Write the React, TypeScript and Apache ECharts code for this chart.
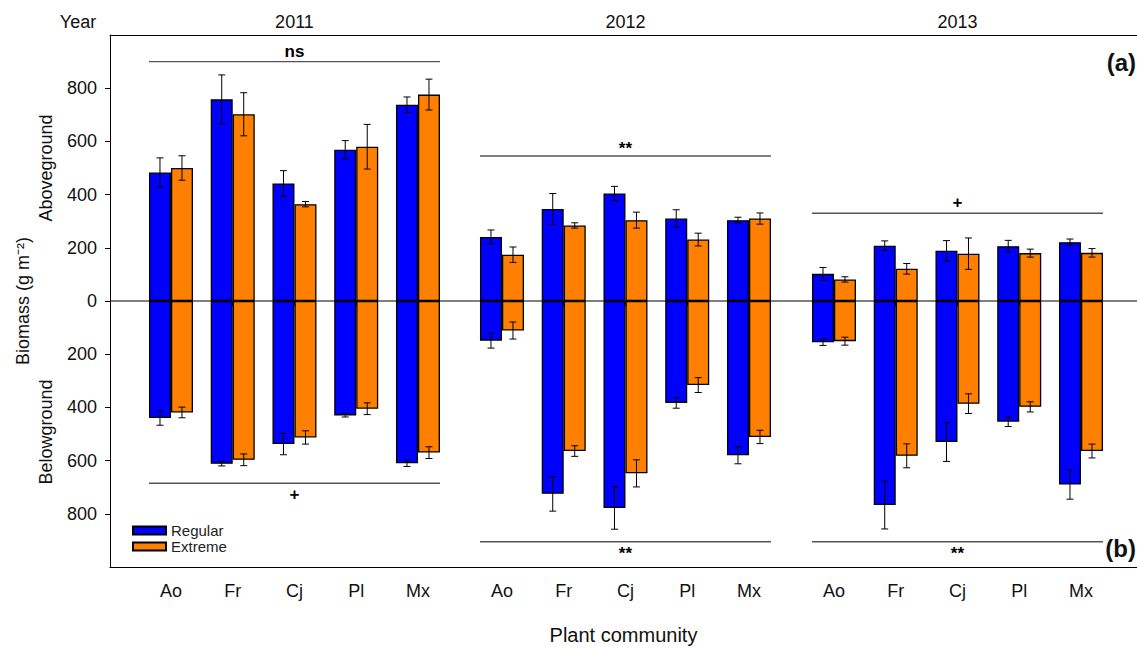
import React, { useEffect, useRef } from "react";
import * as echarts from "echarts";

const years = ["2011", "2012", "2013"];
const communities = ["Ao", "Fr", "Cj", "Pl", "Mx"];

// Aboveground biomass (g m-2), per year, per community
const aboveRegular = [
  [483, 758, 442, 569, 738],
  [241, 346, 404, 310, 304],
  [102, 208, 189, 206, 221],
];
const aboveRegularErr = [
  [55, 92, 48, 34, 29],
  [26, 58, 27, 33, 11],
  [24, 18, 38, 22, 12],
];
const aboveExtreme = [
  [500, 702, 364, 580, 776],
  [174, 284, 304, 231, 310],
  [81, 121, 178, 180, 181],
];
const aboveExtremeErr = [
  [46, 81, 10, 84, 58],
  [29, 10, 30, 24, 21],
  [10, 20, 59, 15, 16],
];
// Belowground biomass (g m-2), plotted downward
const belowRegular = [
  [440, 612, 538, 430, 610],
  [149, 725, 778, 383, 580],
  [155, 767, 530, 454, 690],
];
const belowRegularErr = [
  [27, 8, 40, 6, 12],
  [28, 65, 80, 20, 32],
  [12, 90, 73, 18, 55],
];
const belowExtreme = [
  [419, 597, 513, 405, 570],
  [111, 564, 648, 316, 511],
  [151, 582, 386, 398, 564],
];
const belowExtremeErr = [
  [20, 22, 25, 22, 22],
  [32, 20, 51, 28, 25],
  [15, 45, 37, 19, 26],
];

// Significance annotations
const sigAboveY = [900, 545, 330];
const sigAboveLabel = ["ns", "**", "+"];
const sigBelowY = [-685, -905, -905];
const sigBelowLabel = ["+", "**", "**"];

const yTickValues = [-800, -600, -400, -200, 0, 200, 400, 600, 800];

const FONT = "'Liberation Sans', Arial, Helvetica, sans-serif";
const BLUE = "#0000FF";
const ORANGE = "#FF8000";
const BAR_W = 22;
const BAND = 61.75;
const gridLefts = [140.1, 471.1, 803.1];
const TOP = 35;
const BOTTOM = 81;

function buildOption() {
  const grids: any[] = gridLefts.map((l) => ({
    left: l,
    width: BAND * 5,
    top: TOP,
    bottom: BOTTOM,
    containLabel: false,
    outerBoundsMode: "none",
  }));
  grids.push({ left: 110, right: 0, top: TOP, bottom: BOTTOM, containLabel: false, outerBoundsMode: "none" });

  const xAxes: any[] = years.map((_, i) => ({
    type: "category",
    gridIndex: i,
    data: communities,
    boundaryGap: true,
    axisLine: { show: false },
    axisTick: { show: true, alignWithLabel: true, length: 5, lineStyle: { color: "#000" } },
    axisLabel: { fontSize: 18, color: "#111", fontFamily: FONT, margin: 15 },
    splitLine: { show: false },
  }));
  xAxes.push({
    type: "value",
    gridIndex: 3,
    min: 0,
    max: 1,
    position: "bottom",
    axisLine: { show: true, onZero: false, lineStyle: { color: "#000", width: 1 } },
    axisTick: { show: false },
    axisLabel: { show: false },
    splitLine: { show: false },
    name: "Plant community",
    nameLocation: "middle",
    nameGap: 58,
    nameTextStyle: { fontSize: 20, color: "#111", fontFamily: FONT },
  });
  xAxes.push({
    type: "value",
    gridIndex: 3,
    min: 0,
    max: 1,
    position: "top",
    axisLine: { show: true, onZero: false, lineStyle: { color: "#000", width: 1 } },
    axisTick: { show: false },
    axisLabel: { show: false },
    splitLine: { show: false },
  });
  years.forEach((y, i) => {
    xAxes.push({
      type: "category",
      gridIndex: i,
      data: communities,
      position: "top",
      axisLine: { show: false },
      axisTick: { show: false },
      axisLabel: { show: false },
      splitLine: { show: false },
      name: y,
      nameLocation: "middle",
      nameGap: 4,
      nameTextStyle: { fontSize: 18, color: "#111", fontFamily: FONT },
    });
  });

  const yAxes: any[] = years.map((_, i) => ({
    type: "value",
    gridIndex: i,
    min: -1000,
    max: 1000,
    show: false,
  }));
  yAxes.push({
    type: "value",
    gridIndex: 3,
    min: -1000,
    max: 1000,
    interval: 200,
    axisLine: { show: true, onZero: false, lineStyle: { color: "#000", width: 1 } },
    axisTick: { show: true, inside: false, length: 5, customValues: yTickValues, lineStyle: { color: "#000" } },
    axisLabel: {
      customValues: yTickValues,
      formatter: (v: number) => String(Math.abs(v)),
      fontSize: 18,
      color: "#111",
      fontFamily: FONT,
      margin: 13,
    },
    splitLine: { show: false },
    name: "Biomass (g m⁻²)",
    nameLocation: "middle",
    nameGap: 78,
    nameTextStyle: { fontSize: 18, color: "#111", fontFamily: FONT },
  });

  const series: any[] = [];
  years.forEach((_, i) => {
    const barBase = {
      type: "bar",
      xAxisIndex: i,
      yAxisIndex: i,
      barWidth: BAR_W,
      barGap: "0%",
      silent: true,
    };
    series.push({
      ...barBase,
      name: "Regular",
      stack: "reg" + i,
      data: aboveRegular[i],
      itemStyle: { color: BLUE, borderColor: "#000", borderWidth: 1.3 },
    });
    series.push({
      ...barBase,
      name: "Regular",
      stack: "reg" + i,
      data: belowRegular[i].map((v) => -v),
      itemStyle: { color: BLUE, borderColor: "#000", borderWidth: 1.3 },
    });
    series.push({
      ...barBase,
      name: "Extreme",
      stack: "ext" + i,
      data: aboveExtreme[i],
      itemStyle: { color: ORANGE, borderColor: "#000", borderWidth: 1.3 },
    });
    series.push({
      ...barBase,
      name: "Extreme",
      stack: "ext" + i,
      data: belowExtreme[i].map((v) => -v),
      itemStyle: { color: ORANGE, borderColor: "#000", borderWidth: 1.3 },
    });

    const errSeries = (mAbove: number[], eAbove: number[], mBelow: number[], eBelow: number[], dir: number) => ({
      type: "custom",
      xAxisIndex: i,
      yAxisIndex: i,
      silent: true,
      z: 5,
      data: [
        ...communities.map((_, k) => [k, mAbove[k], eAbove[k]]),
        ...communities.map((_, k) => [k, -mBelow[k], eBelow[k]]),
      ],
      renderItem: (params: any, api: any) => {
        const x = api.value(0);
        const m = api.value(1);
        const e = api.value(2);
        const p1 = api.coord([x, m + e]);
        const p2 = api.coord([x, m - e]);
        const cx = p1[0] + (dir * BAR_W) / 2;
        const cap = 3.5;
        const st = { stroke: "#000", lineWidth: 1 };
        return {
          type: "group",
          children: [
            { type: "line", shape: { x1: cx, y1: p1[1], x2: cx, y2: p2[1] }, style: st },
            { type: "line", shape: { x1: cx - cap, y1: p1[1], x2: cx + cap, y2: p1[1] }, style: st },
            { type: "line", shape: { x1: cx - cap, y1: p2[1], x2: cx + cap, y2: p2[1] }, style: st },
          ],
        };
      },
    });
    series.push(errSeries(aboveRegular[i], aboveRegularErr[i], belowRegular[i], belowRegularErr[i], -1));
    series.push(errSeries(aboveExtreme[i], aboveExtremeErr[i], belowExtreme[i], belowExtremeErr[i], 1));

    const sigLabels = [sigAboveLabel[i], sigBelowLabel[i]];
    series.push({
      type: "custom",
      xAxisIndex: i,
      yAxisIndex: i,
      silent: true,
      z: 6,
      data: [
        [0, communities.length - 1, sigAboveY[i], 1],
        [0, communities.length - 1, sigBelowY[i], -1],
      ],
      renderItem: (params: any, api: any) => {
        const a = api.coord([api.value(0), api.value(2)]);
        const b = api.coord([api.value(1), api.value(2)]);
        const up = api.value(3) > 0;
        const x1 = a[0] - BAR_W;
        const x2 = b[0] + BAR_W;
        const y = a[1];
        const label = sigLabels[params.dataIndex];
        const isStar = label === "**";
        return {
          type: "group",
          children: [
            { type: "line", shape: { x1, y1: y, x2, y2: y }, style: { stroke: "#555", lineWidth: 1.4 } },
            {
              type: "text",
              x: (x1 + x2) / 2,
              y: up ? y - (isStar ? -1 : 2) : y + 3,
              style: {
                text: label,
                fill: "#000",
                fontSize: 17,
                fontWeight: "bold",
                fontFamily: FONT,
                align: "center",
                verticalAlign: up ? "bottom" : "top",
              },
            },
          ],
        };
      },
    });
  });

  series.push({
    type: "line",
    name: "zero",
    xAxisIndex: 3,
    yAxisIndex: 3,
    data: [
      [0, 0],
      [1, 0],
    ],
    symbol: "none",
    silent: true,
    z: 10,
    lineStyle: { color: "#000", width: 1 },
  });

  const txt = (text: string, x: number, y: number, opts: any = {}) => ({
    type: "text",
    x,
    y,
    rotation: opts.rotation || 0,
    silent: true,
    style: {
      text,
      fill: "#111",
      font: `${opts.weight || "normal"} ${opts.size || 18}px ${FONT}`,
      align: opts.align || "center",
      textAlign: opts.align || "center",
      verticalAlign: "middle",
      textVerticalAlign: "middle",
    },
  });

  return {
    animation: false,
    backgroundColor: "#fff",
    textStyle: { fontFamily: FONT },
    grid: grids,
    xAxis: xAxes,
    yAxis: yAxes,
    legend: {
      data: ["Regular", "Extreme"],
      orient: "vertical",
      left: 127,
      top: 518,
      itemWidth: 33,
      itemHeight: 8,
      itemGap: 1,
      icon: "rect",
      selectedMode: false,
      textStyle: { fontSize: 15, color: "#222", fontFamily: FONT },
    },
    graphic: [
      txt("Year", 78, 22),
      txt("Aboveground", 46, 168, { rotation: Math.PI / 2 }),
      txt("Belowground", 46, 432, { rotation: Math.PI / 2 }),
      txt("(a)", 1136, 62, { align: "right", weight: "bold", size: 24 }),
      txt("(b)", 1136, 548, { align: "right", weight: "bold", size: 24 }),
    ],
    series,
  };
}

export default function App() {
  const ref = useRef<HTMLDivElement>(null);
  useEffect(() => {
    if (!ref.current) return;
    const chart = echarts.init(ref.current, null, { renderer: "svg" });
    chart.setOption(buildOption() as any);
    return () => chart.dispose();
  }, []);
  return (
    <div
      ref={ref}
      style={{ position: "absolute", left: 0, top: 0, width: 1137, height: 648, background: "#fff" }}
    />
  );
}
